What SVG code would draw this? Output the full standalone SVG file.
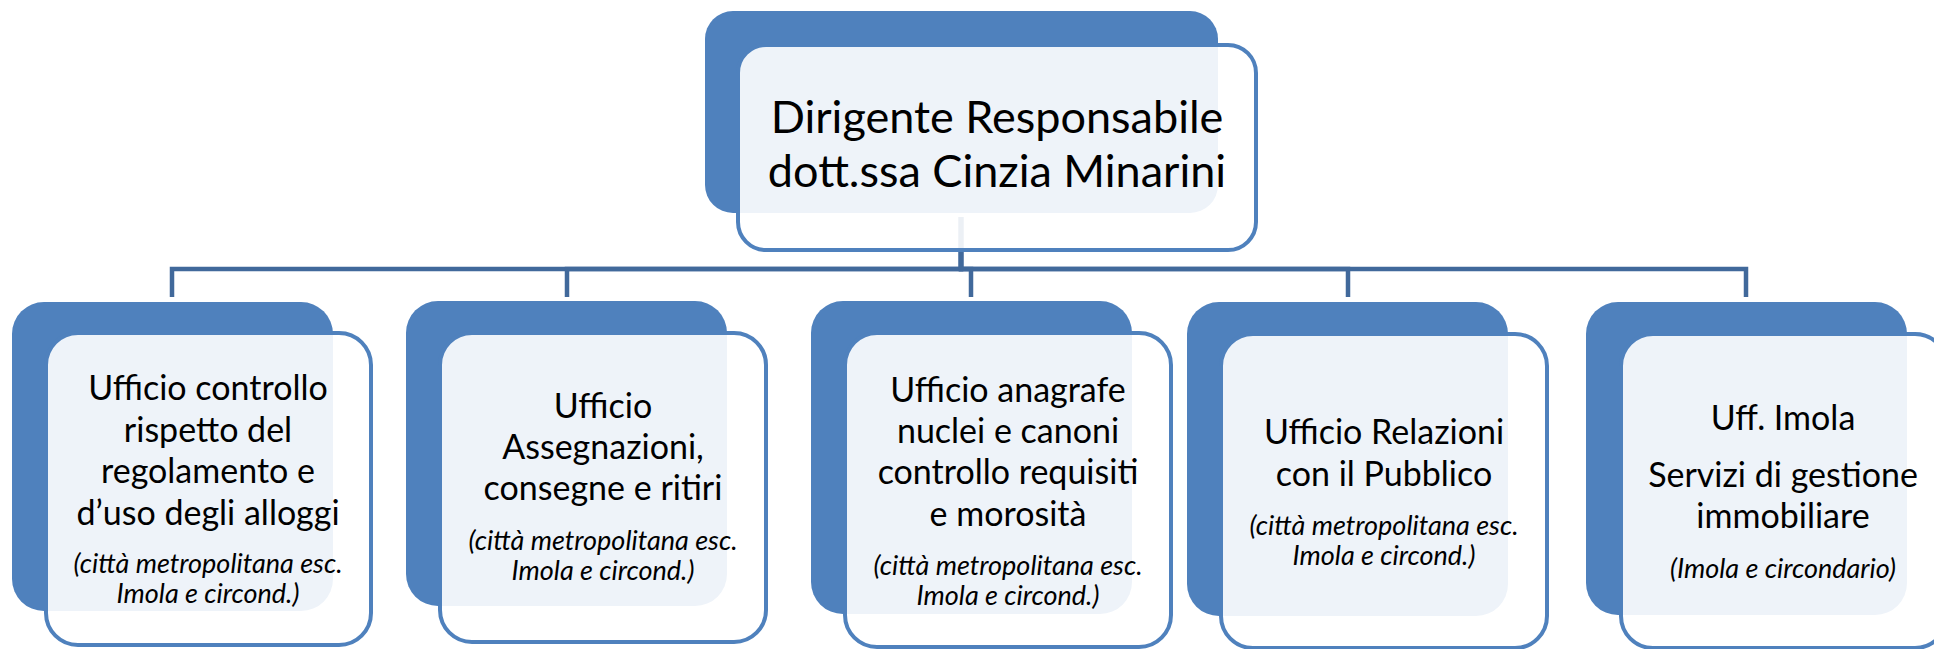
<svg xmlns="http://www.w3.org/2000/svg" width="1934" height="649" viewBox="0 0 1934 649">
<style>
.bk{fill:#4f81bd}
.fr{fill:#ffffff;fill-opacity:0.9;stroke:#4f81bd;stroke-width:4}
.cn{fill:none;stroke:#41699b;stroke-width:4.5}
text{font-family:Lato,"Liberation Sans",sans-serif;fill:#000;text-anchor:middle}
.t{font-size:45px}
.m{font-size:34px}
.i{font-size:27px;font-style:italic}
</style>
<rect width="1934" height="649" fill="#fff"/>
<g id="connectors">
<path class="cn" d="M961 217V269H172V297"/>
<path class="cn" d="M961 217V269H567V297"/>
<path class="cn" d="M961 217V269H971V297"/>
<path class="cn" d="M961 217V269H1348V297"/>
<path class="cn" d="M961 217V269H1746V297"/>
</g>
<g id="n0">
<rect class="bk" x="705" y="11" width="513" height="202" rx="28"/>
<rect class="fr" x="738" y="45" width="518" height="205" rx="28"/>
<text class="t" x="997" y="133">Dirigente Responsabile</text>
<text class="t" x="997" y="187">dott.ssa Cinzia Minarini</text>
</g>
<g id="n1">
<rect class="bk" x="12" y="302" width="321" height="309" rx="32"/>
<rect class="fr" x="46" y="333" width="325" height="312" rx="32"/>
<text class="m" x="208" y="400">Ufficio controllo</text>
<text class="m" x="208" y="442">rispetto del</text>
<text class="m" x="208" y="483">regolamento e</text>
<text class="m" x="208" y="525">d’uso degli alloggi</text>
<text class="i" x="208" y="573">(città metropolitana esc.</text>
<text class="i" x="208" y="603">Imola e circond.)</text>
</g>
<g id="n2">
<rect class="bk" x="406" y="301" width="321" height="305" rx="32"/>
<rect class="fr" x="440" y="333" width="326" height="309" rx="32"/>
<text class="m" x="603" y="418">Ufficio</text>
<text class="m" x="603" y="459">Assegnazioni,</text>
<text class="m" x="603" y="500">consegne e ritiri</text>
<text class="i" x="603" y="550">(città metropolitana esc.</text>
<text class="i" x="603" y="580">Imola e circond.)</text>
</g>
<g id="n3">
<rect class="bk" x="811" y="301" width="321" height="313" rx="32"/>
<rect class="fr" x="845" y="333" width="326" height="314" rx="32"/>
<text class="m" x="1008" y="402">Ufficio anagrafe</text>
<text class="m" x="1008" y="443">nuclei e canoni</text>
<text class="m" x="1008" y="484">controllo requisiti</text>
<text class="m" x="1008" y="526">e morosità</text>
<text class="i" x="1008" y="575">(città metropolitana esc.</text>
<text class="i" x="1008" y="605">Imola e circond.)</text>
</g>
<g id="n4">
<rect class="bk" x="1187" y="302" width="321" height="314" rx="32"/>
<rect class="fr" x="1221" y="334" width="326" height="314" rx="32"/>
<text class="m" x="1384" y="444">Ufficio Relazioni</text>
<text class="m" x="1384" y="486">con il Pubblico</text>
<text class="i" x="1384" y="535">(città metropolitana esc.</text>
<text class="i" x="1384" y="565">Imola e circond.)</text>
</g>
<g id="n5">
<rect class="bk" x="1586" y="302" width="321" height="313" rx="32"/>
<rect class="fr" x="1621" y="334" width="326" height="314" rx="32"/>
<text class="m" x="1783" y="430">Uff. Imola</text>
<text class="m" x="1783" y="487">Servizi di gestione</text>
<text class="m" x="1783" y="528">immobiliare</text>
<text class="i" x="1783" y="578">(Imola e circondario)</text>
</g>
</svg>
